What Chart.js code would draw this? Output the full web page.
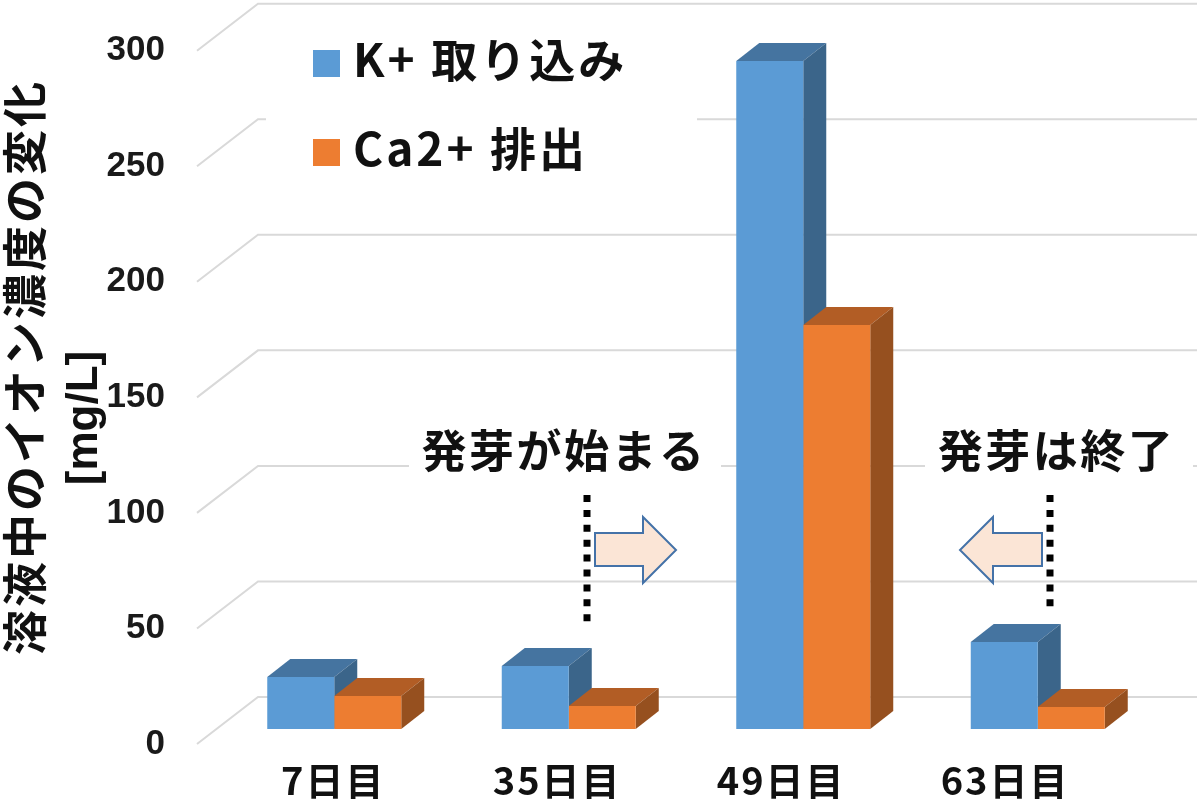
<!DOCTYPE html>
<html lang="ja">
<head>
<meta charset="utf-8">
<title>溶液中のイオン濃度の変化</title>
<script src="https://cdn.jsdelivr.net/npm/chart.js@4"></script>
<style>
    html, body { margin: 0; padding: 0; background: #fff; }
    canvas { display: block; }
</style>
</head>
<body>
<canvas id="chart" width="1200" height="800"></canvas>
<script>
const days = ['7日目', '35日目', '49日目', '63日目'];
const potassium = [22.5, 27.3, 289, 37.6];
const calcium = [14.3, 10, 174.8, 9.5];
const seriesNames = ['K+ 取り込み', 'Ca2+ 排出'];
const axisTitle = '溶液中のイオン濃度の変化';
const axisUnit = '[mg/L]';
const startNote = '発芽が始まる';
const endNote = '発芽は終了';

const JP = '"Noto Sans CJK JP", sans-serif';
const GRID = '#d9d9d9';
const depthX = 23, depthY = -18;
// the wall is offset from the value labels, the bars stand on a floor 15px above them
const wallX = 61, wallY = -47;
const barFloor = 15;

function poly(ctx, pts, fill) {
    ctx.beginPath();
    pts.forEach((p, i) => i ? ctx.lineTo(p[0], p[1]) : ctx.moveTo(p[0], p[1]));
    ctx.closePath();
    ctx.fillStyle = fill;
    ctx.fill();
}

function label(ctx, text, x, y, font, spacing, align) {
    ctx.save();
    ctx.font = font;
    ctx.fillStyle = '#111';
    ctx.textAlign = align || 'center';
    ctx.textBaseline = 'middle';
    ctx.letterSpacing = (spacing || 0) + 'px';
    ctx.fillText(text, x, y);
    ctx.restore();
}

const wallPlugin = {
    id: 'wall',
    beforeDraw(chart) {
        const { ctx, scales } = chart;
        ctx.save();
        ctx.strokeStyle = GRID;
        ctx.lineWidth = 2;
        scales.y.ticks.forEach(t => {
            const py = scales.y.getPixelForValue(t.value);
            ctx.beginPath();
            ctx.moveTo(scales.y.right - 20, py);
            ctx.lineTo(scales.y.right - 20 + wallX, py + wallY);
            ctx.lineTo(1197, py + wallY);
            ctx.stroke();
        });
        // white boxes behind the legend and the notes cut through the grid
        ctx.fillStyle = '#fff';
        ctx.fillRect(266, 100, 431, 40);
        ctx.fillRect(409, 425, 312, 54);
        ctx.fillRect(925, 425, 268, 54);
        ctx.restore();
    }
};

// side and top faces, first series first so the second one's top covers its side
const sidesPlugin = {
    id: 'sides',
    beforeDatasetsDraw(chart) {
        const { ctx } = chart;
        chart.data.datasets.forEach((ds, i) => {
            chart.getDatasetMeta(i).data.forEach(bar => {
                const l = bar.x - bar.width / 2, r = bar.x + bar.width / 2;
                const t = bar.y, b = bar.base;
                poly(ctx, [[l, t], [l + depthX, t + depthY], [r + depthX, t + depthY], [r, t]], ds.topColor);
                poly(ctx, [[r, t], [r + depthX, t + depthY], [r + depthX, b + depthY], [r, b]], ds.sideColor);
            });
        });
    }
};

function arrow(ctx, tip, headBase, tail) {
    ctx.beginPath();
    ctx.moveTo(tail, 533);
    ctx.lineTo(headBase, 533);
    ctx.lineTo(headBase, 517);
    ctx.lineTo(tip, 550);
    ctx.lineTo(headBase, 583);
    ctx.lineTo(headBase, 566);
    ctx.lineTo(tail, 566);
    ctx.closePath();
    ctx.fillStyle = '#fbe5d6';
    ctx.fill();
    ctx.strokeStyle = '#4472a8';
    ctx.lineWidth = 2;
    ctx.stroke();
}

function dotted(ctx, x, y0, y1) {
    ctx.save();
    ctx.strokeStyle = '#000';
    ctx.lineWidth = 7;
    ctx.setLineDash([7, 7.9]);
    ctx.beginPath();
    ctx.moveTo(x, y0);
    ctx.lineTo(x, y1);
    ctx.stroke();
    ctx.restore();
}

const notesPlugin = {
    id: 'notes',
    afterDraw(chart) {
        const { ctx, scales } = chart;

        // axis title, two lines with their own centres
        ctx.save();
        ctx.translate(25, 367);
        ctx.rotate(-Math.PI / 2);
        label(ctx, axisTitle, 0, 0, 'bold 45px ' + JP, 3);
        ctx.restore();
        ctx.save();
        ctx.translate(85, 418);
        ctx.rotate(-Math.PI / 2);
        label(ctx, axisUnit, 0, 0, 'bold 44px "Liberation Sans"', 0);
        ctx.restore();

        // category labels sit tighter than the bars in the original
        const first = scales.x.getPixelForValue(0);
        days.forEach((d, i) => {
            const x = first - 1 + (scales.x.getPixelForValue(i) - first) * 0.955;
            label(ctx, d, x, 781, 'bold 38px ' + JP, 2);
        });

        // legend
        chart.data.datasets.forEach((ds, i) => {
            const y = i === 0 ? 63 : 152;
            ctx.fillStyle = ds.backgroundColor;
            ctx.fillRect(313, y - 13, 27, 27);
            label(ctx, ds.label, 353, y - 3, 'bold 46px ' + JP, 3, 'left');
        });

        // notes
        dotted(ctx, 587, 495, 622);
        dotted(ctx, 1050, 495, 607);
        arrow(ctx, 676, 643, 595);
        arrow(ctx, 960, 993, 1042);
        label(ctx, startNote, 564, 451, 'bold 45px ' + JP, 2.5);
        label(ctx, endNote, 1056.5, 451, 'bold 45px ' + JP, 2.5);
    }
};

new Chart(document.getElementById('chart'), {
    type: 'bar',
    data: {
        labels: days,
        datasets: [
            { label: seriesNames[0], data: potassium, yAxisID: 'yBar',
              backgroundColor: '#5b9bd5', topColor: '#4574a0', sideColor: '#3b658a' },
            { label: seriesNames[1], data: calcium, yAxisID: 'yBar',
              backgroundColor: '#ed7d31', topColor: '#b25d25', sideColor: '#96501f' }
        ]
    },
    options: {
        responsive: false,
        animation: false,
        barPercentage: 1,
        categoryPercentage: 0.5714,
        layout: { padding: { left: 0, right: 45, top: 50.7, bottom: 56 } },
        plugins: { legend: { display: false }, tooltip: { enabled: false } },
        scales: {
            x: {
                grid: { display: false, drawTicks: false },
                border: { display: false },
                ticks: { display: false, padding: 0 },
                afterFit(scale) { scale.height = 0; }
            },
            y: {
                min: 0,
                max: 300,
                grid: { display: false, drawTicks: false },
                border: { display: false },
                ticks: {
                    stepSize: 50,
                    padding: 52,
                    color: '#1a1a1a',
                    font: { family: '"Liberation Sans"', size: 35, weight: 'bold' }
                },
                afterFit(scale) {
                    scale.width = 217;
                    scale.paddingTop = 0;
                    scale.paddingBottom = 0;
                }
            },
            // same pixels per unit as y, but zero lifted to the floor of the bars
            yBar: {
                display: false,
                min: -barFloor / (693.3 / 300),
                max: 300 - barFloor / (693.3 / 300)
            }
        }
    },
    plugins: [wallPlugin, sidesPlugin, notesPlugin]
});
</script>
</body>
</html>
